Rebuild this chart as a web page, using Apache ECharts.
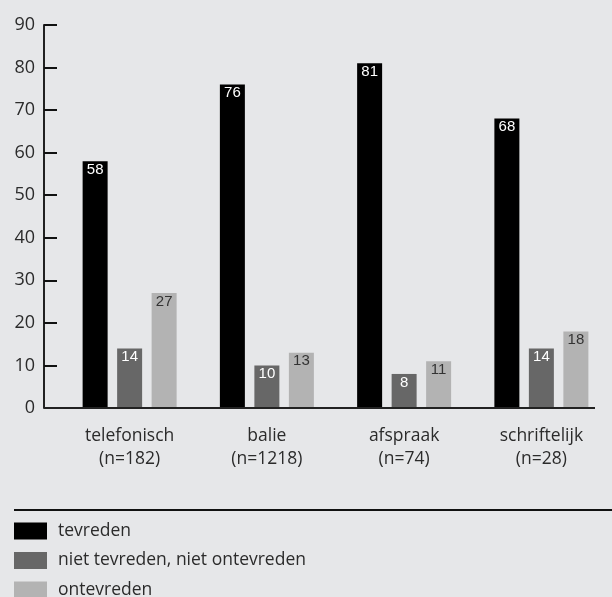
<!DOCTYPE html>
<html><head><meta charset="utf-8">
<script src="https://cdn.jsdelivr.net/npm/echarts@6/dist/echarts.min.js"></script>
<style>html,body{margin:0;padding:0;background:#e6e7e9;}#c{width:612px;height:597px;}</style>
</head><body><div id="c"></div>
<script>
const categories = ['telefonisch\n(n=182)', 'balie\n(n=1218)', 'afspraak\n(n=74)', 'schriftelijk\n(n=28)'];
const seriesNames = ['tevreden', 'niet tevreden, niet ontevreden', 'ontevreden'];
const tevreden = [58, 76, 81, 68];
const neutraal = [14, 10, 8, 14];
const ontevreden = [27, 13, 11, 18];
const yTicks = [0, 10, 20, 30, 40, 50, 60, 70, 80, 90];

const colors = ['#000000', '#676767', '#b3b3b3'];
const labelColors = ['#ffffff', '#ffffff', '#333333'];
const values = [tevreden, neutraal, ontevreden];
const font = 'Open Sans';

const chart = echarts.init(document.getElementById('c'));
chart.setOption({
  backgroundColor: '#e6e7e9',
  animation: false,
  grid: { left: 61, right: 2, top: 25, bottom: 189, containLabel: false },
  xAxis: {
    type: 'category', data: categories,
    axisLine: { show: false }, axisTick: { show: false },
    axisLabel: { color: '#2b2b2b', fontFamily: font, fontSize: 17.5, lineHeight: 23, margin: 17 }
  },
  yAxis: {
    type: 'value', min: yTicks[0], max: yTicks[yTicks.length - 1], interval: 10, offset: 17,
    splitLine: { show: false },
    axisLine: { show: true, lineStyle: { color: '#222', width: 2 } },
    axisTick: { show: true, inside: true, length: 13, lineStyle: { color: '#111', width: 2 } },
    axisLabel: { color: '#2b2b2b', fontFamily: font, fontSize: 18, margin: 9,
      formatter: v => yTicks.includes(v) ? String(v) : '' }
  },
  legend: {
    orient: 'vertical', left: 14, top: 522, padding: 0, height: 80,
    itemWidth: 33, itemHeight: 17, itemGap: 11.5,
    icon: 'rect',
    textStyle: { color: '#2b2b2b', fontFamily: font, fontSize: 17.5, lineHeight: 17, padding: [0, 0, 0, 6] },
    data: seriesNames
  },
  graphic: [
    { type: 'line', shape: { x1: 44, y1: 408, x2: 595, y2: 408 }, style: { stroke: '#222', lineWidth: 2 }, z: 10 },
    { type: 'line', shape: { x1: 14, y1: 510, x2: 612, y2: 510 }, style: { stroke: '#111', lineWidth: 2 } }
  ],
  series: seriesNames.map((n, i) => ({
    name: n, type: 'bar', data: values[i], barWidth: 25, barGap: '38%',
    itemStyle: { color: colors[i] },
    label: { show: true, position: 'insideTop', distance: 1, color: labelColors[i],
      fontFamily: 'Liberation Sans', fontSize: 15 }
  }))
});
</script></body></html>
